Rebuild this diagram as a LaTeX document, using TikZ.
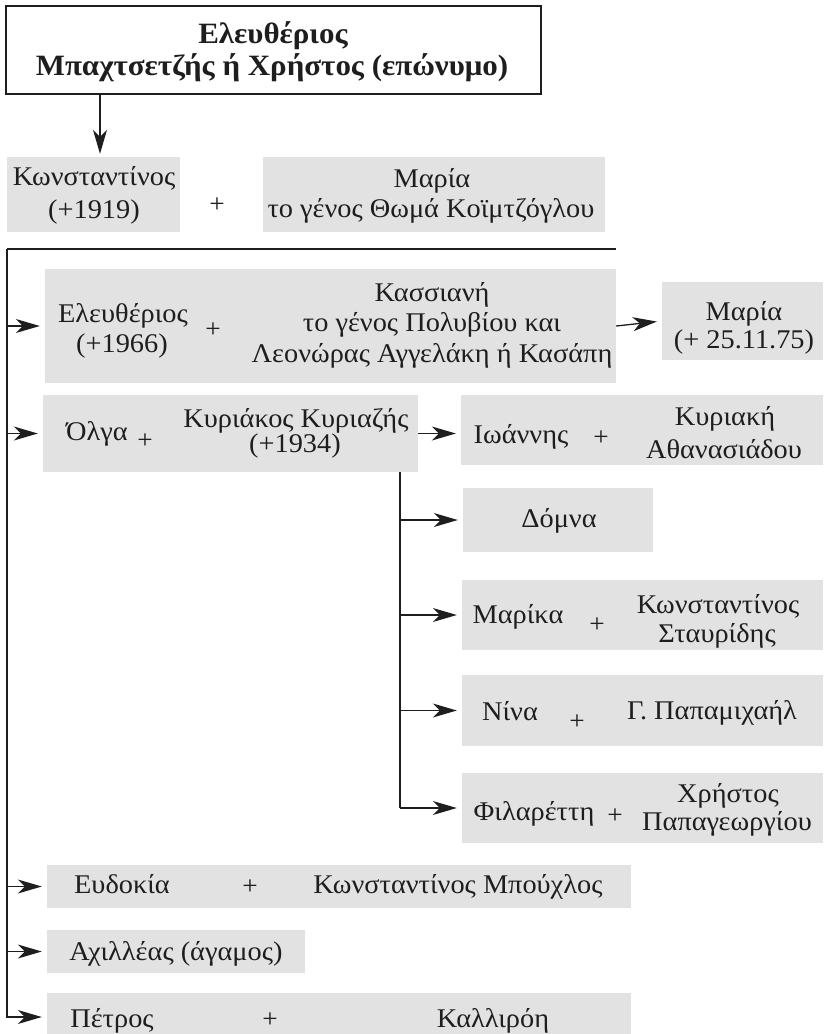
\documentclass[tikz,border=0pt]{standalone}
\usepackage{fontspec}
\setmainfont{Liberation Serif}
\newfontfamily\wserif[FakeStretch=1.05]{Liberation Serif}
\usetikzlibrary{arrows.meta}
\definecolor{boxgray}{RGB}{226,226,226}
\definecolor{ink}{RGB}{30,30,30}
\begin{document}
\begin{tikzpicture}[x=1pt,y=-1pt,
  famb/.style={fill=boxgray, draw=none, inner sep=0pt},
  txt/.style={anchor=base, inner sep=0pt, text=ink, font=\wserif\fontsize{27}{30}\selectfont},
  ttl/.style={anchor=base, inner sep=0pt, text=ink, font=\wserif\fontsize{29.5}{33}\selectfont\bfseries},
  pl/.style={inner sep=0pt, text=ink, font=\wserif\fontsize{26}{28}\selectfont},
  conn/.style={draw=ink, line width=1.3pt},
  arr/.style={conn, shorten >=5pt, -{Stealth[length=24pt,width=14pt,inset=7pt]}},
]
\useasboundingbox (0,0) rectangle (823,1034);
% boxes
\node[draw=ink, line width=1.5pt, fill=white, minimum width=535pt, minimum height=88pt, inner sep=0pt] (top) at (273.5,50) {};
\node[famb, minimum width=173pt, minimum height=75pt] (k1) at (93.5,194.5) {};
\node[famb, minimum width=342pt, minimum height=75pt] (m1) at (434,194.5) {};
\node[famb, minimum width=571pt, minimum height=114pt] (e) at (330.5,326) {};
\node[famb, minimum width=161pt, minimum height=78pt] (mr) at (742.5,321) {};
\node[famb, minimum width=375pt, minimum height=77pt] (o) at (230.5,433.5) {};
\node[famb, minimum width=362pt, minimum height=70pt] (i) at (642,430) {};
\node[famb, minimum width=190pt, minimum height=64pt] (d) at (558,520) {};
\node[famb, minimum width=361pt, minimum height=70pt] (mk) at (642.5,615) {};
\node[famb, minimum width=361pt, minimum height=71pt] (n) at (642.5,710.5) {};
\node[famb, minimum width=361pt, minimum height=70pt] (f) at (642.5,808) {};
\node[famb, minimum width=584pt, minimum height=43pt] (ev) at (339,886.5) {};
\node[famb, minimum width=258pt, minimum height=43pt] (a) at (176,951.5) {};
\node[famb, minimum width=584pt, minimum height=48pt] (p) at (339,1017) {};
% texts
\node[ttl] (t1) at (273,43) {Ελευθέριος};
\node[ttl] (t2) at (272,75) {Μπαχτσετζής ή Χρήστος (επώνυμο)};
\node[txt] (k1a) at (94,185) {Κωνσταντίνος};
\node[txt] (k1b) at (94,218) {(+1919)};
\node[pl] (pl1) at (217,205) {+};
\node[txt] (m1a) at (432,187) {Μαρία};
\node[txt] (m1b) at (431,217) {το γένος Θωμά Κοϊμτζόγλου};
\node[txt] (ea) at (123,322) {Ελευθέριος};
\node[txt] (eb) at (122,352) {(+1966)};
\node[pl] (pl2) at (213,330) {+};
\node[txt] (ec) at (432,301) {Κασσιανή};
\node[txt] (ed) at (432,331) {το γένος Πολυβίου και};
\node[txt] (ee) at (432,362) {Λεονώρας Αγγελάκη ή Κασάπη};
\node[txt] (mra) at (744,320) {Μαρία};
\node[txt] (mrb) at (744,348) {(+ 25.11.75)};
\node[txt] (oa) at (97,440) {Όλγα};
\node[pl] (pl3) at (145,441) {+};
\node[txt] (ob) at (296,427) {Κυριάκος Κυριαζής};
\node[txt] (oc) at (295,452) {(+1934)};
\node[txt] (ia) at (521,443) {Ιωάννης};
\node[pl] (pl4) at (601,438) {+};
\node[txt] (ib) at (725,425) {Κυριακή};
\node[txt] (ic) at (724,458) {Αθανασιάδου};
\node[txt] (da) at (559,527) {Δόμνα};
\node[txt] (mka) at (518,623) {Μαρίκα};
\node[pl] (pl5) at (597,625) {+};
\node[txt] (mkb) at (718,613) {Κωνσταντίνος};
\node[txt] (mkc) at (717,642) {Σταυρίδης};
\node[txt] (na) at (510,720) {Νίνα};
\node[pl] (pl6) at (577,722) {+};
\node[txt] (nb) at (712,719) {Γ. Παπαμιχαήλ};
\node[txt] (fa) at (534,820) {Φιλαρέττη};
\node[pl] (pl7) at (615,816) {+};
\node[txt] (fb) at (728,802) {Χρήστος};
\node[txt] (fc) at (727,830) {Παπαγεωργίου};
\node[txt] (eva) at (122,893) {Ευδοκία};
\node[pl] (pl8) at (250,887) {+};
\node[txt] (evb) at (458,893) {Κωνσταντίνος Μπούχλος};
\node[txt] (aa) at (176,960) {Αχιλλέας (άγαμος)};
\node[txt] (pa) at (112,1027) {Πέτρος};
\node[pl] (pl9) at (270,1020) {+};
\node[txt] (pb) at (493,1027) {Καλλιρόη};
% connectors
\coordinate (c0) at (100,0);
\coordinate (tr) at (7,249);
\coordinate (trE) at (616,249);
\coordinate (br) at (400,0);
\draw[arr, shorten >=3pt] (top.south -| c0) -- (k1.north -| c0);
\draw[conn] (tr) -- (trE);
\draw[arr] (tr) |- (p.west);
\draw[arr] (e.west -| tr) -- (e.west);
\draw[arr] (o.west -| tr) -- (o.west);
\draw[arr] (ev.west -| tr) -- (ev.west);
\draw[arr] (a.west -| tr) -- (a.west);
\draw[arr] (e.east) -- (mr.west);
\draw[arr] (o.east) -- (o.east -| i.west);
\draw[conn] (o.south -| br) -- (f.west -| br);
\draw[arr] (d.west -| br) -- (d.west);
\draw[arr] (mk.west -| br) -- (mk.west);
\draw[arr] (n.west -| br) -- (n.west);
\draw[arr] (f.west -| br) -- (f.west);
\end{tikzpicture}
\end{document}
